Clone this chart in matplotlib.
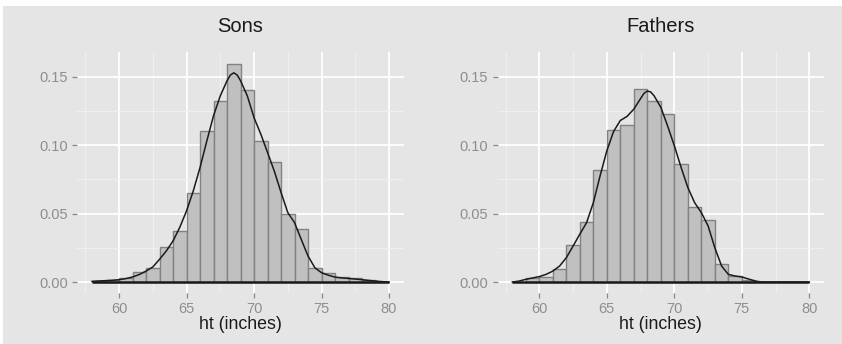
import matplotlib
matplotlib.use('Agg')
import numpy as np
from matplotlib import pyplot as plt
from matplotlib.patches import Rectangle
from matplotlib.ticker import MultipleLocator, FormatStrFormatter

plt.rcParams['font.family'] = ['Liberation Sans', 'DejaVu Sans']

# histogram bins (left edges, width 1 inch) and densities
son_bins = [58, 59, 60, 61, 62, 63, 64, 65, 66, 67, 68, 69, 70, 71, 72, 73, 74, 75, 76, 77, 78]
son_hist = [0.0010, 0.0012, 0.0030, 0.0072, 0.0100, 0.0258, 0.0370, 0.0648, 0.1100, 0.1324,
            0.1595, 0.1400, 0.1030, 0.0880, 0.0498, 0.0388, 0.0106, 0.0065, 0.0039, 0.0028, 0.0018]

father_bins = [59, 60, 61, 62, 63, 64, 65, 66, 67, 68, 69, 70, 71, 72, 73, 74, 75]
father_hist = [0.0032, 0.0040, 0.0098, 0.0268, 0.0442, 0.0815, 0.1110, 0.1148, 0.1407, 0.1324,
               0.1224, 0.0860, 0.0545, 0.0450, 0.0130, 0.0046, 0.0017]

# kernel density estimates
son_kde_x = [58, 58.5, 59, 59.5, 60, 60.5, 61, 61.5, 62, 62.5, 63, 63.5, 64, 64.5, 65, 65.5,
             66, 66.5, 67, 67.5, 68, 68.25, 68.5, 68.75, 69, 69.5, 70, 70.5, 71, 71.5, 72, 72.5,
             73, 73.5, 74, 74.5, 75, 75.5, 76, 76.5, 77, 77.5, 78, 78.5, 79, 79.5, 80]
son_kde_y = [0.0005, 0.0008, 0.0010, 0.0013, 0.0017, 0.0025, 0.0037, 0.0055, 0.0080, 0.0110,
             0.0166, 0.0227, 0.0300, 0.0400, 0.0520, 0.0666, 0.0837, 0.1030, 0.1215, 0.1360,
             0.1470, 0.1512, 0.1528, 0.1512, 0.1470, 0.1360, 0.1200, 0.1080, 0.0946, 0.0810,
             0.0654, 0.0507, 0.0434, 0.0310, 0.0190, 0.0105, 0.0068, 0.0050, 0.0036, 0.0030,
             0.0026, 0.0022, 0.0017, 0.0012, 0.0007, 0.0003, 0.0]

father_kde_x = [58, 58.5, 59, 59.5, 60, 60.5, 61, 61.5, 62, 62.5, 63, 63.5, 64, 64.5, 65, 65.5,
                66, 66.5, 67, 67.5, 67.75, 68, 68.25, 68.5, 69, 69.5, 70, 70.5, 71, 71.5, 72, 72.5,
                73, 73.5, 74, 74.5, 75, 75.5, 76, 76.5, 77, 78, 79, 80]
father_kde_y = [0.0, 0.0007, 0.0020, 0.0030, 0.0040, 0.0056, 0.0080, 0.0117, 0.0178, 0.0263,
                0.0350, 0.0434, 0.0580, 0.0776, 0.0959, 0.1100, 0.1180, 0.1210, 0.1263, 0.1340,
                0.1378, 0.1395, 0.1388, 0.1360, 0.1276, 0.1140, 0.0995, 0.0837, 0.0690, 0.0580,
                0.0507, 0.0410, 0.0250, 0.0117, 0.0056, 0.0044, 0.0037, 0.0022, 0.0007, 0.0,
                0.0, 0.0, 0.0, 0.0]

panels = [('Sons', son_bins, son_hist, son_kde_x, son_kde_y),
          ('Fathers', father_bins, father_hist, father_kde_x, father_kde_y)]

W, H = 842, 344
bg = '#E5E5E6'
fig = plt.figure(figsize=(W / 100, H / 100), dpi=100, facecolor=bg)
# thin white margin along the top and left edge
fig.patches.append(Rectangle((0, 1 - 6 / H), 1, 6 / H, transform=fig.transFigure,
                             facecolor='white', edgecolor='none', zorder=-1))
fig.patches.append(Rectangle((0, 0), 3 / W, 1, transform=fig.transFigure,
                             facecolor='white', edgecolor='none', zorder=-1))

for i, (title, bins, hist, kx, ky) in enumerate(panels):
    left = 77.2 + i * 420.3
    ax = fig.add_axes([left / W, (H - 293) / H, 326.7 / W, 241 / H])
    ax.set_facecolor(bg)
    for s in ax.spines.values():
        s.set_visible(False)

    ax.bar(bins, hist, width=1, align='edge', color='#C0C0C0',
           edgecolor='#828282', linewidth=1.0, zorder=2)
    ax.plot(kx, ky, color='#1A1A1A', lw=1.1, zorder=3)
    ax.plot([kx[0], kx[-1]], [0, 0], color='#1A1A1A', lw=1.8, zorder=3,
            solid_capstyle='butt')

    ax.set_xlim(56.9, 81.1)
    ax.set_ylim(-0.008, 0.168)
    ax.xaxis.set_major_locator(MultipleLocator(5))
    ax.xaxis.set_minor_locator(MultipleLocator(2.5))
    ax.yaxis.set_major_locator(MultipleLocator(0.05))
    ax.yaxis.set_minor_locator(MultipleLocator(0.025))
    ax.yaxis.set_major_formatter(FormatStrFormatter('%.2f'))
    ax.grid(which='major', color='white', lw=1.3, zorder=0)
    ax.grid(which='minor', color='#F1F1F1', lw=0.6, zorder=0)
    ax.set_axisbelow(True)
    ax.tick_params(which='major', direction='out', length=3.8, width=0.9,
                   color='#8A8A8A', labelcolor='#8E8E8E', labelsize=10.5, pad=3)
    ax.tick_params(which='minor', length=0)

    cx = (left + 326.7 / 2) / W
    fig.text(cx, 1 - 31.5 / H, title, ha='center', va='baseline', fontsize=14.5, color='#1A1A1A')
    fig.text(cx, 1 - 329 / H, 'ht (inches)', ha='center', va='baseline', fontsize=12.8,
             color='#1A1A1A')

fig.savefig('out.png', dpi=100, facecolor=bg)
